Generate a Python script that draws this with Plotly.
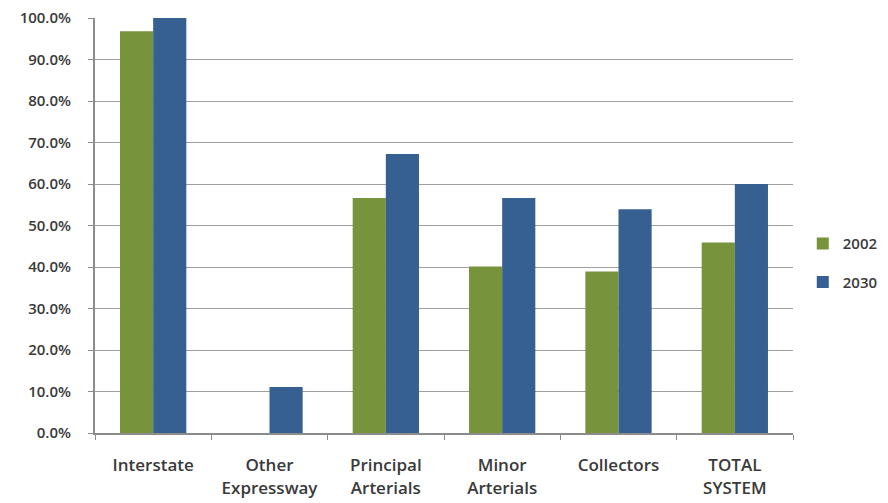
import plotly.graph_objects as go

categories = ["Interstate", "Other<br>Expressway", "Principal<br>Arterials",
              "Minor<br>Arterials", "Collectors", "TOTAL<br>SYSTEM"]
values_2002 = [0.968, 0.0, 0.566, 0.401, 0.389, 0.459]
values_2030 = [1.0, 0.111, 0.672, 0.566, 0.539, 0.600]
series_names = ["2002", "2030"]
y_ticks = [0.0, 0.1, 0.2, 0.3, 0.4, 0.5, 0.6, 0.7, 0.8, 0.9, 1.0]

font_family = "Open Sans, Liberation Sans, Arial, sans-serif"
text_color = "#3a3a3a"

fig = go.Figure()
fig.add_trace(go.Bar(x=categories, y=values_2002, name=series_names[0],
                     marker=dict(color="#77933C", line=dict(width=0)),
                     legendgroup="a"))
fig.add_trace(go.Bar(x=categories, y=values_2030, name=series_names[1],
                     marker=dict(color="#376092", line=dict(width=0)),
                     legendgroup="b"))

# page body adds an 8px offset at top/left
fig.update_layout(
    width=888, height=495,
    margin=dict(l=87, r=103, t=10, b=70, autoexpand=False),
    paper_bgcolor="white", plot_bgcolor="white",
    barmode="group", bargap=0.43, bargroupgap=0,
    font=dict(family=font_family, size=14, color=text_color, weight=600),
    showlegend=True,
    legend=dict(x=1.014, y=0.41, xanchor="left", yanchor="middle",
                traceorder="grouped", tracegroupgap=16,
                font=dict(size=15, color=text_color, weight=600),
                itemwidth=30, bgcolor="rgba(0,0,0,0)"),
    xaxis=dict(showline=True, linecolor="#8c8c8c", linewidth=2,
               ticks="outside", tickson="boundaries", ticklen=5,
               tickcolor="#8c8c8c", tickwidth=1, automargin=False,
               showgrid=False, ticklabelstandoff=16,
               ticklabeloverflow="allow",
               tickfont=dict(size=17, color=text_color, weight=600)),
    yaxis=dict(range=[0, 1], tickvals=y_ticks, tickformat=".1%",
               showline=True, linecolor="#8c8c8c", linewidth=2,
               ticks="outside", ticklen=5, tickcolor="#8c8c8c",
               showgrid=True, gridcolor="#a0a0a0", gridwidth=1,
               zeroline=False, ticklabelstandoff=14, automargin=False,
               ticklabeloverflow="allow",
               tickfont=dict(size=15, color=text_color, weight=600)),
)

fig.write_html("out.html")
